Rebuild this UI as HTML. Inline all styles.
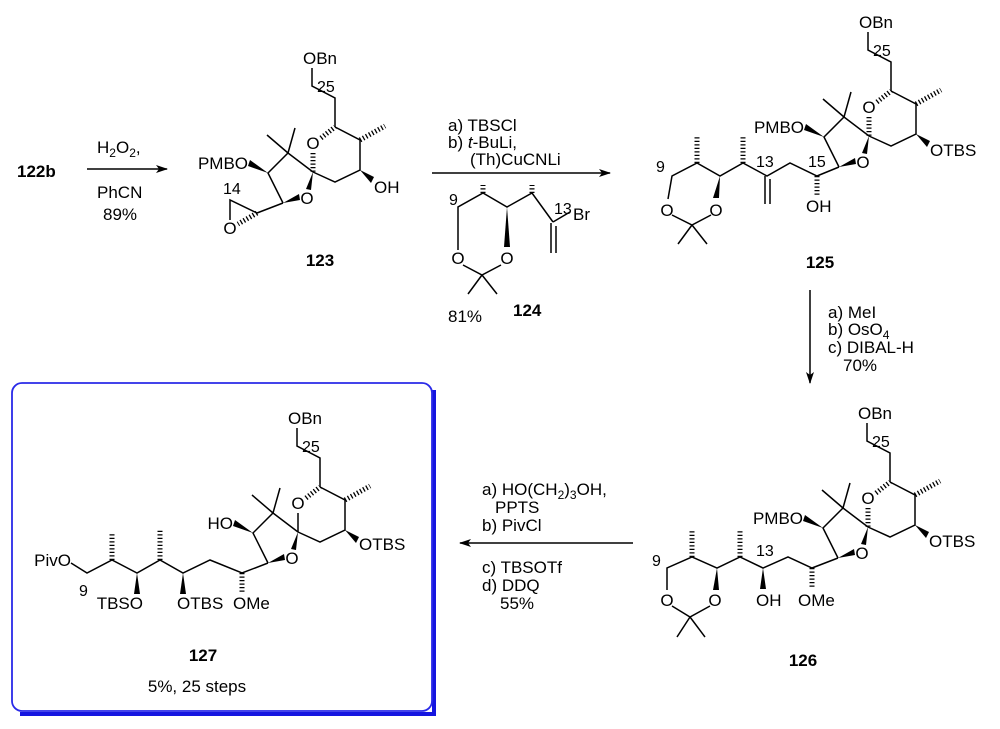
<!DOCTYPE html>
<html><head><meta charset="utf-8"><style>
html,body{margin:0;padding:0;background:#fff}
svg{display:block}
text{font-family:"Liberation Sans",Arial,sans-serif;font-size:17px;fill:#000}
.s{font-size:16px}
.b{font-weight:bold}
.l{stroke:#000;stroke-width:1.5;fill:none}
.h{stroke:#000;stroke-width:5;stroke-dasharray:1.3 2.2;fill:none}
.w{fill:#000;stroke:none}
</style></head><body>
<svg width="1000" height="729" viewBox="0 0 1000 729" xmlns="http://www.w3.org/2000/svg">
<defs><marker id="ah" markerWidth="12" markerHeight="8" refX="11" refY="4" orient="auto" markerUnits="userSpaceOnUse"><path d="M0,0 L12,4 L0,8 L3,4 z" fill="#000"/></marker></defs>

<!-- box -->
<path d="M434,390 L434,714 L20,714" stroke="#1515e0" stroke-width="4" fill="none"/>
<rect x="12" y="383" width="420" height="328" rx="10" fill="none" stroke="#2a2ae8" stroke-width="1.8"/>

<!-- step 1 -->
<text x="17" y="177" class="b">122b</text>
<line x1="87" y1="169" x2="167" y2="169" class="l" marker-end="url(#ah)"/>
<text x="97" y="153">H<tspan font-size="12" dy="4">2</tspan><tspan dy="-4">O</tspan><tspan font-size="12" dy="4">2</tspan><tspan dy="-4">,</tspan></text>
<text x="97" y="198">PhCN</text>
<text x="103" y="220">89%</text>

<!-- step 2 -->
<line x1="432" y1="173" x2="610" y2="173" class="l" marker-end="url(#ah)"/>
<text x="448" y="131">a) TBSCl</text>
<text x="448" y="148">b) <tspan font-style="italic">t</tspan>-BuLi,</text>
<text x="470" y="165">(Th)CuCNLi</text>
<text x="448" y="322">81%</text>
<text x="513" y="316" class="b">124</text>

<!-- 124 structure -->
<polyline class="l" points="458,250 458,207 483,193 507,207 532,193 553,222"/>
<line class="h" x1="483" y1="193" x2="483" y2="185"/>
<line class="h" x1="532" y1="193" x2="532" y2="185"/>
<polygon class="w" points="507,207 504,247 510,247"/>
<line class="l" x1="553" y1="222" x2="570" y2="212"/>
<line class="l" x1="551" y1="223" x2="551" y2="253"/><line class="l" x1="556" y1="226" x2="556" y2="253"/>
<text x="554" y="214" class="s">13</text>
<text x="573" y="220">Br</text>
<text x="449" y="205" class="s">9</text>
<text x="458" y="264" text-anchor="middle">O</text>
<text x="507" y="264" text-anchor="middle">O</text>
<polyline class="l" points="463,265 482,275 501,265"/>
<line class="l" x1="482" y1="275" x2="468" y2="294"/><line class="l" x1="482" y1="275" x2="497" y2="294"/>

<!-- vertical arrow -->
<line x1="810" y1="290" x2="810" y2="383" class="l" marker-end="url(#ah)"/>
<text x="828" y="318">a) MeI</text>
<text x="828" y="335">b) OsO<tspan font-size="12" dy="4">4</tspan></text>
<text x="828" y="353">c) DIBAL-H</text>
<text x="843" y="371">70%</text>

<!-- bottom arrow -->
<line x1="633" y1="543" x2="460" y2="543" class="l" marker-end="url(#ah)"/>
<text x="482" y="495">a) HO(CH<tspan font-size="12" dy="4">2</tspan><tspan dy="-4">)</tspan><tspan font-size="12" dy="4">3</tspan><tspan dy="-4">OH,</tspan></text>
<text x="495" y="513">PPTS</text>
<text x="482" y="531">b) PivCl</text>
<text x="482" y="573">c) TBSOTf</text>
<text x="482" y="591">d) DDQ</text>
<text x="500" y="609">55%</text>

<!-- labels -->
<text x="320" y="266" class="b" text-anchor="middle">123</text>
<text x="820" y="268" class="b" text-anchor="middle">125</text>
<text x="803" y="666" class="b" text-anchor="middle">126</text>
<text x="203" y="661" class="b" text-anchor="middle">127</text>
<text x="197" y="692" text-anchor="middle">5%, 25 steps</text>

<!-- core 123 -->
<g>
<text x="303" y="64">OBn</text>
<polyline class="l" points="312,68 312,86 335,98 335,127"/>
<text x="317" y="92" class="s">25</text>
<text x="313" y="149" text-anchor="middle">O</text>
<line class="h" x1="321" y1="138" x2="335" y2="127"/>
<polyline class="l" points="335,127 360,140 360,170 335,182 313,172"/>
<line class="h" x1="313" y1="153" x2="313" y2="172"/>
<line class="h" x1="360" y1="140" x2="385" y2="126"/>
<polygon class="w" points="360,170 374,177 371,183"/>
<polygon class="w" points="313,172 306,189 311,190"/>
<text x="307" y="204" text-anchor="middle">O</text>
<polygon class="w" points="283,203 299,194 300,200"/>
<polyline class="l" points="283,203 268,173 288,153 313,172"/>
<line class="l" x1="288" y1="153" x2="267" y2="135"/><line class="l" x1="288" y1="153" x2="295" y2="128"/>
<polygon class="w" points="268,173 250,160 248,166"/>
</g>
<text x="248" y="169" text-anchor="end">PMBO</text>
<text x="374" y="193">OH</text>
<!-- epoxide -->
<line class="l" x1="283" y1="203" x2="257" y2="213"/>
<polyline class="l" points="257,213 230,200 230,220"/>
<line class="h" x1="257" y1="213" x2="238" y2="224"/>
<text x="230" y="234" text-anchor="middle">O</text>
<text x="223" y="194" class="s">14</text>

<!-- core 125 -->
<g transform="translate(556,-36)">
<text x="303" y="64">OBn</text>
<polyline class="l" points="312,68 312,86 335,98 335,127"/>
<text x="317" y="92" class="s">25</text>
<text x="313" y="149" text-anchor="middle">O</text>
<line class="h" x1="321" y1="138" x2="335" y2="127"/>
<polyline class="l" points="335,127 360,140 360,170 335,182 313,172"/>
<line class="h" x1="313" y1="153" x2="313" y2="172"/>
<line class="h" x1="360" y1="140" x2="385" y2="126"/>
<polygon class="w" points="360,170 374,177 371,183"/>
<polygon class="w" points="313,172 306,189 311,190"/>
<text x="307" y="204" text-anchor="middle">O</text>
<polygon class="w" points="283,203 299,194 300,200"/>
<polyline class="l" points="283,203 268,173 288,153 313,172"/>
<line class="l" x1="288" y1="153" x2="267" y2="135"/><line class="l" x1="288" y1="153" x2="295" y2="128"/>
<polygon class="w" points="268,173 250,160 248,166"/>
<text x="248" y="169" text-anchor="end">PMBO</text>
<text x="374" y="192">OTBS</text>
</g>
<!-- 125 left -->
<polyline class="l" points="839,167 817,176 790,163 767,176 743,163 720,176 697,163 672,176 668,199"/>
<line class="h" x1="817" y1="176" x2="817" y2="197"/>
<text x="806" y="212">OH</text>
<text x="808" y="167" class="s">15</text>
<line class="l" x1="765" y1="176" x2="765" y2="204"/><line class="l" x1="770" y1="179" x2="770" y2="204"/>
<text x="756" y="167" class="s">13</text>
<line class="h" x1="743" y1="163" x2="743" y2="135"/>
<line class="h" x1="697" y1="163" x2="697" y2="135"/>
<polygon class="w" points="720,176 713,198 719,198"/>
<text x="716" y="216" text-anchor="middle">O</text>
<text x="667" y="216" text-anchor="middle">O</text>
<text x="656" y="172" class="s">9</text>
<polyline class="l" points="672,215 692,225 711,215"/>
<line class="l" x1="692" y1="225" x2="678" y2="244"/><line class="l" x1="692" y1="225" x2="707" y2="244"/>

<!-- core 126 -->
<g transform="translate(555,355)">
<text x="303" y="64">OBn</text>
<polyline class="l" points="312,68 312,86 335,98 335,127"/>
<text x="317" y="92" class="s">25</text>
<text x="313" y="149" text-anchor="middle">O</text>
<line class="h" x1="321" y1="138" x2="335" y2="127"/>
<polyline class="l" points="335,127 360,140 360,170 335,182 313,172"/>
<line class="h" x1="313" y1="153" x2="313" y2="172"/>
<line class="h" x1="360" y1="140" x2="385" y2="126"/>
<polygon class="w" points="360,170 374,177 371,183"/>
<polygon class="w" points="313,172 306,189 311,190"/>
<text x="307" y="204" text-anchor="middle">O</text>
<polygon class="w" points="283,203 299,194 300,200"/>
<polyline class="l" points="283,203 268,173 288,153 313,172"/>
<line class="l" x1="288" y1="153" x2="267" y2="135"/><line class="l" x1="288" y1="153" x2="295" y2="128"/>
<polygon class="w" points="268,173 250,160 248,166"/>
<text x="248" y="169" text-anchor="end">PMBO</text>
<text x="374" y="192">OTBS</text>
</g>
<!-- 126 left -->
<polyline class="l" points="838,558 812,568 788,557 763,568 740,557 717,568 692,557 667,568 667,590"/>
<line class="h" x1="812" y1="568" x2="812" y2="589"/>
<text x="798" y="606">OMe</text>
<polygon class="w" points="763,568 760,589 766,589"/>
<text x="756" y="606">OH</text>
<text x="756" y="556" class="s">13</text>
<line class="h" x1="740" y1="557" x2="740" y2="530"/>
<line class="h" x1="692" y1="557" x2="692" y2="530"/>
<polygon class="w" points="717,568 713,590 719,590"/>
<text x="715" y="606" text-anchor="middle">O</text>
<text x="667" y="606" text-anchor="middle">O</text>
<text x="652" y="566" class="s">9</text>
<polyline class="l" points="672,606 690,617 710,606"/>
<line class="l" x1="690" y1="617" x2="677" y2="637"/><line class="l" x1="690" y1="617" x2="705" y2="637"/>

<!-- core 127 -->
<g transform="translate(-15,360)">
<text x="303" y="64">OBn</text>
<polyline class="l" points="312,68 312,86 335,98 335,127"/>
<text x="317" y="92" class="s">25</text>
<text x="313" y="149" text-anchor="middle">O</text>
<line class="h" x1="321" y1="138" x2="335" y2="127"/>
<polyline class="l" points="335,127 360,140 360,170 335,182 313,172"/>
<line class="l" x1="313" y1="153" x2="313" y2="172"/>
<line class="h" x1="360" y1="140" x2="385" y2="126"/>
<polygon class="w" points="360,170 374,177 371,183"/>
<polygon class="w" points="313,172 306,189 311,190"/>
<text x="307" y="204" text-anchor="middle">O</text>
<polygon class="w" points="283,203 299,194 300,200"/>
<polyline class="l" points="283,203 268,173 288,153 313,172"/>
<line class="l" x1="288" y1="153" x2="267" y2="135"/><line class="l" x1="288" y1="153" x2="295" y2="128"/>
<polygon class="w" points="268,173 250,160 248,166"/>
<text x="248" y="169" text-anchor="end">HO</text>
<text x="374" y="190">OTBS</text>
</g>
<!-- 127 left -->
<polyline class="l" points="268,563 242,573 210,560 183,573 160,560 137,573 112,560 87,573 71,563"/>
<line class="h" x1="242" y1="573" x2="242" y2="593"/>
<text x="233" y="609">OMe</text>
<polygon class="w" points="183,573 180,594 186,594"/>
<text x="177" y="609">OTBS</text>
<line class="h" x1="160" y1="560" x2="160" y2="530"/>
<polygon class="w" points="137,573 134,594 140,594"/>
<text x="143" y="609" text-anchor="end">TBSO</text>
<line class="h" x1="112" y1="560" x2="112" y2="532"/>
<text x="79" y="596" class="s">9</text>
<text x="71" y="566" text-anchor="end">PivO</text>
</svg>
</body></html>
